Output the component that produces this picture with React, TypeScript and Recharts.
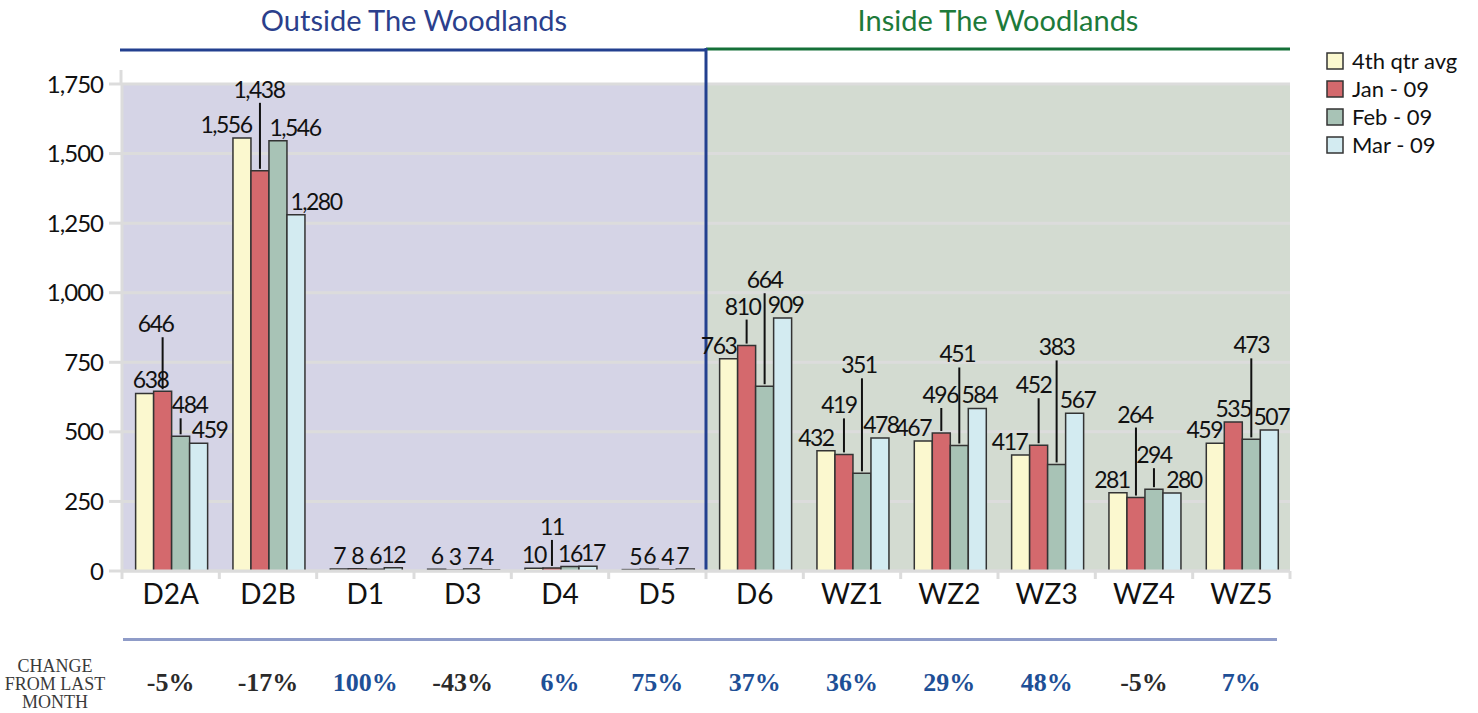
import {
  BarChart,
  Bar,
  XAxis,
  YAxis,
  CartesianGrid,
  ReferenceLine,
  LabelList,
} from 'recharts';

const categories = ['D2A', 'D2B', 'D1', 'D3', 'D4', 'D5', 'D6', 'WZ1', 'WZ2', 'WZ3', 'WZ4', 'WZ5'];
const qtr4Avg = [638, 1556, 7, 6, 10, 5, 763, 432, 467, 417, 281, 459];
const jan09 = [646, 1438, 8, 3, 11, 6, 810, 419, 496, 452, 264, 535];
const feb09 = [484, 1546, 6, 7, 16, 4, 664, 351, 451, 383, 294, 473];
const mar09 = [459, 1280, 12, 4, 17, 7, 909, 478, 584, 567, 280, 507];
const changeFromLastMonth = ['-5%', '-17%', '100%', '-43%', '6%', '75%', '37%', '36%', '29%', '48%', '-5%', '7%'];
const yTicks = [0, 250, 500, 750, 1000, 1250, 1500, 1750];
const seriesNames = ['4th qtr avg', 'Jan - 09', 'Feb - 09', 'Mar - 09'];
const seriesColors = ['#fbf8cf', '#d4696d', '#a8c3b6', '#d3ebf1'];
const regionTitles = ['Outside The Woodlands', 'Inside The Woodlands'];

// label placement only: how far a value label is raised (leader line) and nudged sideways
const liftQ4 = [0, 0, 0, 0, 0, 0, 0, 0, 0, 0, 0, 0];
const liftJan = [54, 68, 0, 0, 28, 0, 26, 36, 25, 47, 70, 0];
const liftFeb = [18, 0, 0, 0, 0, 0, 93, 95, 78, 104, 21, 81];
const liftMar = [0, 0, 0, 0, 0, 0, 0, 0, 0, 0, 0, 0];
const dxQ4 = [6, -16, 0, 0, 0, 4, -10, -10, -10, -11, -6, -11];
const dxJan = [-7, -1, 0, 0, 0, 0, -4, -5, -1, -5, -1, 0];
const dxFeb = [9, 17, 0, 0, 0, 0, 0, -3, -2, 0, 0, 0];
const dxMar = [11, 20, 0, -4, 5, -3, 3, 1, 2, 3, 12, 2];

const data = categories.map((name, i) => ({
  name,
  q4: qtr4Avg[i],
  jan: jan09[i],
  feb: feb09[i],
  mar: mar09[i],
}));

const W = 1478;
const H = 713;
const PLOT_LEFT = 122;
const PLOT_RIGHT = 1290;
const PLOT_TOP = 84;
const MID = (PLOT_LEFT + PLOT_RIGHT) / 2;
const SANS = 'Lato, "Open Sans", sans-serif';
const SERIF = '"Liberation Serif", "DejaVu Serif", serif';

const makeLabel = (lift: number[], dx: number[]) => (props: any) => {
  const vb = props.viewBox || props;
  const { value, index } = props;
  const cx = Number(vb.x) + Number(vb.width) / 2;
  const top = Number(vb.y);
  const l = lift[index] ?? 0;
  const base = top - 5 - l;
  return (
    <g key={`lbl-${index}`}>
      {l > 10 && (
        <line x1={cx} x2={cx} y1={base + 5} y2={top - 2} stroke='#111' strokeWidth={2} />
      )}
      <text
        x={cx + (dx[index] ?? 0)}
        y={base}
        textAnchor='middle'
        fontFamily={SANS}
        fontSize={23}
        letterSpacing={-1.5}
        fill='#111'
      >
        {Number(value).toLocaleString('en-US')}
      </text>
    </g>
  );
};

const CategoryTick = (props: any) => {
  const { x, y, payload, index } = props;
  const half = payload?.offset || (PLOT_RIGHT - PLOT_LEFT) / categories.length / 2;
  return (
    <g>
      <line x1={x - half} x2={x - half} y1={y} y2={y + 8} stroke='#dcdcdc' strokeWidth={3} />
      {index === categories.length - 1 && (
        <line x1={x + half} x2={x + half} y1={y} y2={y + 8} stroke='#dcdcdc' strokeWidth={3} />
      )}
      <text x={x} y={y + 33} textAnchor='middle' fontFamily={SANS} fontSize={28} fill='#111'>
        {payload.value}
      </text>
    </g>
  );
};

const ChangeTick = (props: any) => {
  const { x, y, index } = props;
  const v = changeFromLastMonth[index] ?? '';
  const negative = v.startsWith('-');
  return (
    <text
      x={x}
      y={y + 52}
      textAnchor='middle'
      fontFamily={SERIF}
      fontWeight='bold'
      fontSize={26}
      fill={negative ? '#2b2b2b' : '#1e4f96'}
    >
      {v}
    </text>
  );
};

export default function App() {
  const barKeys = ['q4', 'jan', 'feb', 'mar'];
  const lifts = [liftQ4, liftJan, liftFeb, liftMar];
  const dxs = [dxQ4, dxJan, dxFeb, dxMar];

  return (
    <div style={{ position: 'absolute', left: 0, top: 0, width: W, height: H, background: '#fff' }}>
      <svg width={0} height={0} style={{ position: 'absolute' }}>
        <defs>
          <linearGradient id='bgSplit' x1='0' y1='0' x2='1' y2='0'>
            <stop offset='0' stopColor='#d5d4e6' />
            <stop offset='0.5' stopColor='#d5d4e6' />
            <stop offset='0.5' stopColor='#d3dbd1' />
            <stop offset='1' stopColor='#d3dbd1' />
          </linearGradient>
        </defs>
      </svg>
      <div style={{ position: 'absolute', left: 0, top: 0 }}>
        <BarChart
          width={W}
          height={H}
          data={data}
          margin={{ top: PLOT_TOP, right: W - PLOT_RIGHT, bottom: 0, left: 0 }}
          barCategoryGap='14%'
          barGap={0}
        >
          <CartesianGrid
            vertical={false}
            stroke='#dcdcdc'
            strokeWidth={3}
            fill='url(#bgSplit)'
            fillOpacity={1}
          />
          <XAxis
            dataKey='name'
            height={68}
            axisLine={{ stroke: '#dcdcdc', strokeWidth: 3 }}
            tickLine={false}
            tickSize={0}
            tickMargin={0}
            interval={0}
            tick={<CategoryTick />}
          />
          <XAxis
            xAxisId='chg'
            dataKey='name'
            height={74}
            axisLine={false}
            tickLine={false}
            tickSize={0}
            tickMargin={0}
            interval={0}
            tick={<ChangeTick />}
          />
          <YAxis
            width={PLOT_LEFT}
            domain={[0, 1750]}
            ticks={yTicks}
            interval={0}
            axisLine={{ stroke: '#dcdcdc', strokeWidth: 3 }}
            tickLine={{ stroke: '#dcdcdc', strokeWidth: 3 }}
            tickSize={13}
            tickMargin={6}
            tick={{ fontFamily: SANS, fontSize: 24, fill: '#111', letterSpacing: -1 }}
            tickFormatter={(v: number) => v.toLocaleString('en-US')}
          />
          <ReferenceLine x='D6' position='start' stroke='#23408f' strokeWidth={3} />
          {barKeys.map((k, i) => (
            <Bar
              key={k}
              dataKey={k}
              name={seriesNames[i]}
              fill={seriesColors[i]}
              stroke='#333'
              strokeWidth={1.5}
              isAnimationActive={false}
            >
              <LabelList dataKey={k} content={makeLabel(lifts[i], dxs[i])} />
            </Bar>
          ))}
        </BarChart>
      </div>
      <svg
        width={W}
        height={H}
        style={{ position: 'absolute', left: 0, top: 0, pointerEvents: 'none' }}
      >
        <text
          x={(PLOT_LEFT + MID) / 2}
          y={31}
          textAnchor='middle'
          fontFamily={SANS}
          fontSize={29}
          fill='#2b3f8c'
        >
          {regionTitles[0]}
        </text>
        <text
          x={(MID + PLOT_RIGHT) / 2}
          y={31}
          textAnchor='middle'
          fontFamily={SANS}
          fontSize={29}
          fill='#1d7a3a'
        >
          {regionTitles[1]}
        </text>
        <line x1={PLOT_LEFT - 2} x2={MID} y1={50} y2={50} stroke='#23408f' strokeWidth={3} />
        <line x1={MID} x2={PLOT_RIGHT} y1={49} y2={49} stroke='#157038' strokeWidth={3} />
        <line x1={MID} x2={MID} y1={48} y2={PLOT_TOP} stroke='#23408f' strokeWidth={3} />
        <line x1={PLOT_LEFT - 1} x2={PLOT_LEFT - 1} y1={70} y2={PLOT_TOP} stroke='#dcdcdc' strokeWidth={3} />
        <line x1={PLOT_LEFT + 1} x2={1277} y1={639.5} y2={639.5} stroke='#8f9cc8' strokeWidth={3} />
        {seriesNames.map((n, i) => (
          <g key={n}>
            <rect
              x={1327}
              y={53 + i * 28}
              width={16}
              height={16}
              fill={seriesColors[i]}
              stroke='#333'
              strokeWidth={1.5}
            />
            <text x={1352} y={69 + i * 28} fontFamily={SANS} fontSize={22} fill='#111'>
              {n}
            </text>
          </g>
        ))}
        {['CHANGE', 'FROM LAST', 'MONTH'].map((t, i) => (
          <text
            key={t}
            x={55}
            y={672 + i * 18}
            textAnchor='middle'
            fontFamily={SERIF}
            fontSize={18}
            fill='#3a3a3a'
          >
            {t}
          </text>
        ))}
      </svg>
    </div>
  );
}
